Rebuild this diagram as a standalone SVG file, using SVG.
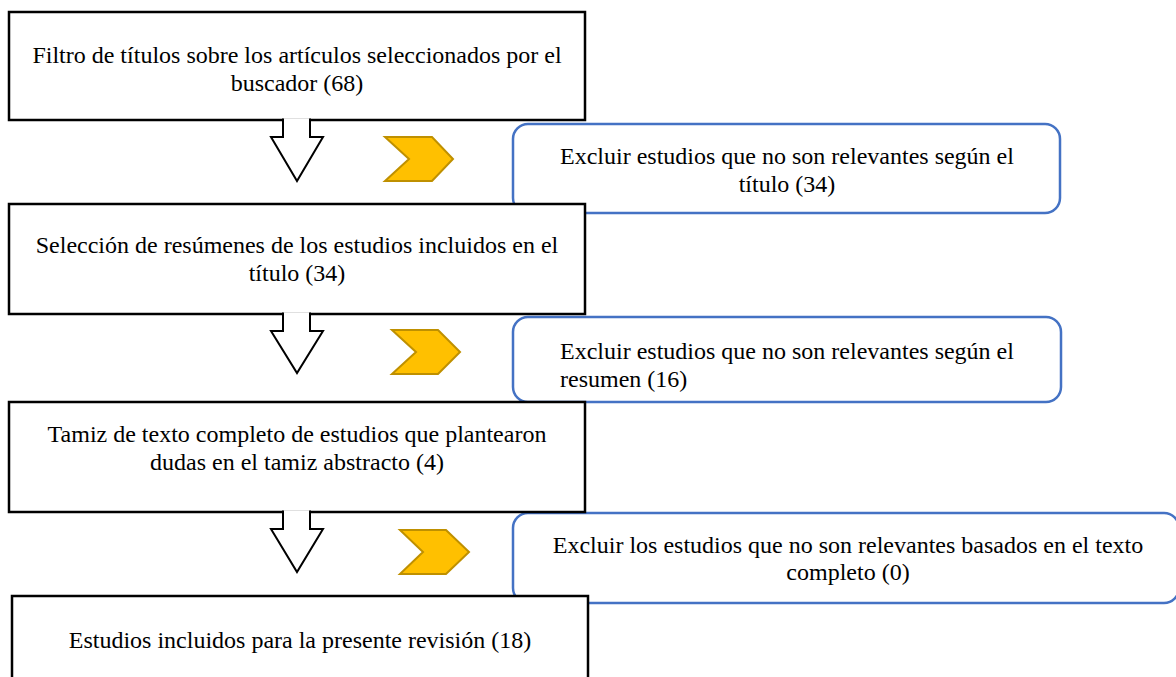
<svg xmlns="http://www.w3.org/2000/svg" width="1176" height="677" viewBox="0 0 1176 677">
<style>
.box{fill:#fff;stroke:#000;stroke-width:2.5}
.rbox{fill:#fff;stroke:#4472C4;stroke-width:2.5}
.arrow{fill:#fff;stroke:#000;stroke-width:2;stroke-linejoin:miter}
.chev{fill:#FFC000;stroke:#BF9000;stroke-width:2}
text{font-family:"Liberation Serif","Times New Roman",serif;font-size:24px;fill:#000}
.c{text-anchor:middle}
</style>
<rect width="1176" height="677" fill="#fff"/>
<g id="excl1">
<rect class="rbox" x="513" y="124" width="547" height="89" rx="15"/>
<text class="c" x="787" y="164">Excluir estudios que no son relevantes según el</text>
<text class="c" x="787" y="192">título (34)</text>
</g>
<g id="excl2">
<rect class="rbox" x="513" y="317" width="548" height="85" rx="15"/>
<text class="c" x="787" y="359">Excluir estudios que no son relevantes según el</text>
<text x="560" y="387">resumen (16)</text>
</g>
<g id="excl3">
<rect class="rbox" x="513" y="513" width="666" height="90" rx="15"/>
<text class="c" x="848" y="553">Excluir los estudios que no son relevantes basados en el texto</text>
<text class="c" x="848" y="580">completo (0)</text>
</g>
<g id="step1">
<rect class="box" x="9" y="12" width="576" height="108"/>
<text class="c" x="297" y="63">Filtro de títulos sobre los artículos seleccionados por el</text>
<text class="c" x="297" y="91">buscador (68)</text>
</g>
<g id="step2">
<rect class="box" x="9" y="204" width="576" height="110"/>
<text class="c" x="297" y="253">Selección de resúmenes de los estudios incluidos en el</text>
<text class="c" x="297" y="281">título (34)</text>
</g>
<g id="step3">
<rect class="box" x="9" y="402" width="576" height="110"/>
<text class="c" x="297" y="442">Tamiz de texto completo de estudios que plantearon</text>
<text class="c" x="297" y="470">dudas en el tamiz abstracto (4)</text>
</g>
<g id="step4">
<rect class="box" x="12" y="596" width="576" height="100"/>
<text class="c" x="300" y="648">Estudios incluidos para la presente revisión (18)</text>
</g>
<g id="connectors">
<path class="arrow" d="M283,118.5 L283,137 L271,137 L297,181 L323,137 L310,137 L310,118.5"/>
<path class="arrow" d="M283,312.5 L283,331 L271,331 L297,373 L323,331 L310,331 L310,312.5"/>
<path class="arrow" d="M283,510.5 L283,529 L271,529 L297,572 L323,529 L310,529 L310,510.5"/>
<polygon class="chev" points="385,137 432,137 453,159 432,181 385,181 409,159"/>
<polygon class="chev" points="392,330 438,330 460,352 438,374 392,374 416,352"/>
<polygon class="chev" points="400,530 446,530 469,552 446,574 400,574 423,552"/>
</g>
</svg>
